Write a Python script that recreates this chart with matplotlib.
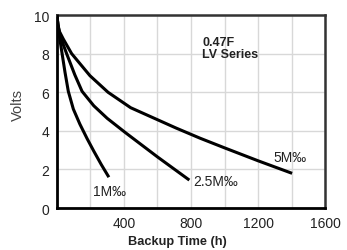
import matplotlib
matplotlib.use('Agg')
from matplotlib import pyplot as plt
from matplotlib.ticker import MultipleLocator

# backup time (h) vs volts
t_1m = [0, 8, 18, 31, 48, 68, 98, 137, 180, 220, 265, 310]
v_1m = [10, 9.35, 8.72, 8.0, 7.05, 6.05, 5.13, 4.35, 3.6, 2.95, 2.25, 1.6]

t_25m = [0, 6, 15, 28, 58, 107, 150, 220, 300, 410, 600, 790]
v_25m = [10, 9.5, 9.1, 8.7, 8.0, 6.9, 6.05, 5.3, 4.65, 3.9, 2.65, 1.45]

t_5m = [0, 6, 15, 38, 88, 197, 305, 440, 710, 854, 1000, 1200, 1403]
v_5m = [10, 9.5, 9.15, 8.76, 8.0, 6.86, 6.0, 5.2, 4.15, 3.62, 3.12, 2.45, 1.8]

curve_labels = ['1M\u2030', '2.5M\u2030', '5M\u2030']
label_pos = [(215, 0.67), (812, 1.19), (1290, 2.44)]

fig = plt.figure(figsize=(3.47, 2.51), dpi=100)
ax = fig.add_axes([0.164, 0.167, 0.773, 0.769])

font = ['Liberation Sans', 'DejaVu Sans']

for t, v in [(t_1m, v_1m), (t_25m, v_25m), (t_5m, v_5m)]:
    ax.plot(t, v, color='black', lw=2.2, solid_capstyle='butt', solid_joinstyle='round', zorder=3)

for lab, (x, y) in zip(curve_labels, label_pos):
    ax.text(x, y, lab, fontsize=10, family=font, color='#222222', va='baseline')

ax.text(866, 8.9, '0.47F\nLV Series', fontsize=9, family=font, fontweight='bold',
        color='#222222', va='top', linespacing=0.95)

ax.set_xlim(0, 1600)
ax.set_ylim(0, 10)
ax.xaxis.set_major_locator(MultipleLocator(400))
ax.xaxis.set_minor_locator(MultipleLocator(200))
ax.yaxis.set_major_locator(MultipleLocator(2))
ax.grid(True, which='both', color='#d8d8d8', lw=1.0)
ax.set_axisbelow(True)
ax.tick_params(which='both', length=0, labelsize=10, colors='#222222')
ax.tick_params(axis='x', pad=6)
ax.tick_params(axis='y', pad=5.5)
ax.set_xticks([400, 800, 1200, 1600])
for lbl in ax.get_xticklabels() + ax.get_yticklabels():
    lbl.set_family(font)

for side in ['left', 'bottom']:
    ax.spines[side].set_color('black')
    ax.spines[side].set_linewidth(2)
for side in ['top', 'right']:
    ax.spines[side].set_color('#333333')
    ax.spines[side].set_linewidth(1.8)

fig.text(177 / 347, 1 - 242 / 251, 'Backup Time (h)', fontsize=9.2, family=font,
         fontweight='bold', color='#222222', ha='center', va='center')
fig.text(18 / 347, 1 - 105 / 251, 'Volts', fontsize=10.5, family=font, color='#444444',
         rotation=90, ha='center', va='center')

fig.savefig('out.png', dpi=100)
